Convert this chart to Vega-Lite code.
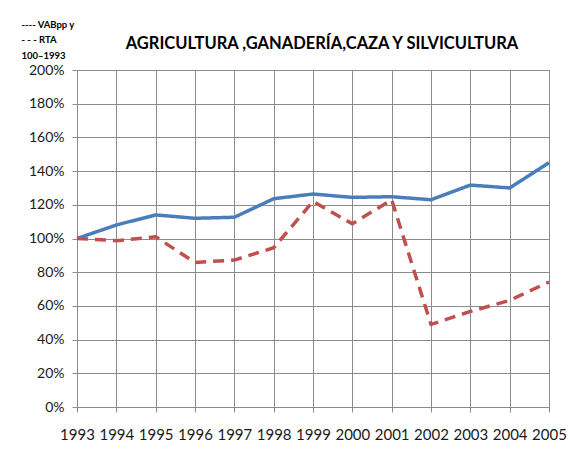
{
  "$schema": "https://vega.github.io/schema/vega-lite/v6.json",
  "autosize": {"type": "none"},
  "width": 472,
  "height": 337,
  "padding": {"left": 77, "top": 70, "right": 19, "bottom": 52},
  "background": "white",
  "title": {
    "text": "AGRICULTURA ,GANADERÍA,CAZA Y SILVICULTURA",
    "font": "Lato",
    "fontSize": 16.5,
    "fontWeight": "bold",
    "color": "#000000",
    "anchor": "middle",
    "dx": 9,
    "offset": -33
  },
  "data": {
    "values": [
      {"year": 1993, "series": "VABpp y", "value": 1.00},
      {"year": 1994, "series": "VABpp y", "value": 1.08},
      {"year": 1995, "series": "VABpp y", "value": 1.14},
      {"year": 1996, "series": "VABpp y", "value": 1.12},
      {"year": 1997, "series": "VABpp y", "value": 1.126},
      {"year": 1998, "series": "VABpp y", "value": 1.236},
      {"year": 1999, "series": "VABpp y", "value": 1.264},
      {"year": 2000, "series": "VABpp y", "value": 1.244},
      {"year": 2001, "series": "VABpp y", "value": 1.248},
      {"year": 2002, "series": "VABpp y", "value": 1.23},
      {"year": 2003, "series": "VABpp y", "value": 1.317},
      {"year": 2004, "series": "VABpp y", "value": 1.30},
      {"year": 2005, "series": "VABpp y", "value": 1.45},
      {"year": 1993, "series": "RTA", "value": 1.00},
      {"year": 1994, "series": "RTA", "value": 0.987},
      {"year": 1995, "series": "RTA", "value": 1.01},
      {"year": 1996, "series": "RTA", "value": 0.858},
      {"year": 1997, "series": "RTA", "value": 0.872},
      {"year": 1998, "series": "RTA", "value": 0.945},
      {"year": 1999, "series": "RTA", "value": 1.22},
      {"year": 2000, "series": "RTA", "value": 1.087},
      {"year": 2001, "series": "RTA", "value": 1.23},
      {"year": 2002, "series": "RTA", "value": 0.49},
      {"year": 2003, "series": "RTA", "value": 0.567},
      {"year": 2004, "series": "RTA", "value": 0.633},
      {"year": 2005, "series": "RTA", "value": 0.742}
    ]
  },
  "mark": {"type": "line", "strokeWidth": 3.5, "strokeCap": "butt", "strokeJoin": "round"},
  "encoding": {
    "x": {
      "field": "year",
      "type": "quantitative",
      "scale": {"domain": [1993, 2005], "nice": false, "zero": false},
      "axis": {
        "values": [1993, 1994, 1995, 1996, 1997, 1998, 1999, 2000, 2001, 2002, 2003, 2004, 2005],
        "format": "d",
        "title": null,
        "grid": true,
        "gridColor": "#8c8c8c",
        "gridWidth": 1,
        "domainColor": "#8c8c8c",
        "tickColor": "#8c8c8c",
        "tickSize": 5,
        "labelFont": "Lato",
        "labelFontSize": 15,
        "labelColor": "#1a1a1a",
        "labelPadding": 15,
        "labelFlush": false,
        "labelOverlap": false
      }
    },
    "y": {
      "field": "value",
      "type": "quantitative",
      "scale": {"domain": [0, 2], "nice": false},
      "axis": {
        "values": [0, 0.2, 0.4, 0.6, 0.8, 1.0, 1.2, 1.4, 1.6, 1.8, 2.0],
        "format": ".0%",
        "grid": true,
        "gridColor": "#8c8c8c",
        "gridWidth": 1,
        "domainColor": "#8c8c8c",
        "tickColor": "#8c8c8c",
        "tickSize": 5,
        "labelFont": "Lato",
        "labelFontSize": 14,
        "labelColor": "#1a1a1a",
        "labelPadding": 8,
        "labelFlush": false,
        "title": ["---- VABpp y", "- - - RTA", "100–1993"],
        "titleAngle": 0,
        "titleAlign": "left",
        "titleBaseline": "middle",
        "titleX": -56,
        "titleY": -46,
        "titleFont": "Lato",
        "titleFontSize": 9.5,
        "titleFontWeight": "bold",
        "titleLineHeight": 15.5,
        "titleColor": "#000000"
      }
    },
    "color": {
      "field": "series",
      "type": "nominal",
      "scale": {"domain": ["VABpp y", "RTA"], "range": ["#4a7ebb", "#c0504d"]},
      "legend": null
    },
    "strokeDash": {
      "field": "series",
      "type": "nominal",
      "scale": {"domain": ["VABpp y", "RTA"], "range": [[1, 0], [11, 7]]},
      "legend": null
    }
  },
  "config": {
    "view": {"stroke": "#8c8c8c", "strokeWidth": 1}
  }
}
